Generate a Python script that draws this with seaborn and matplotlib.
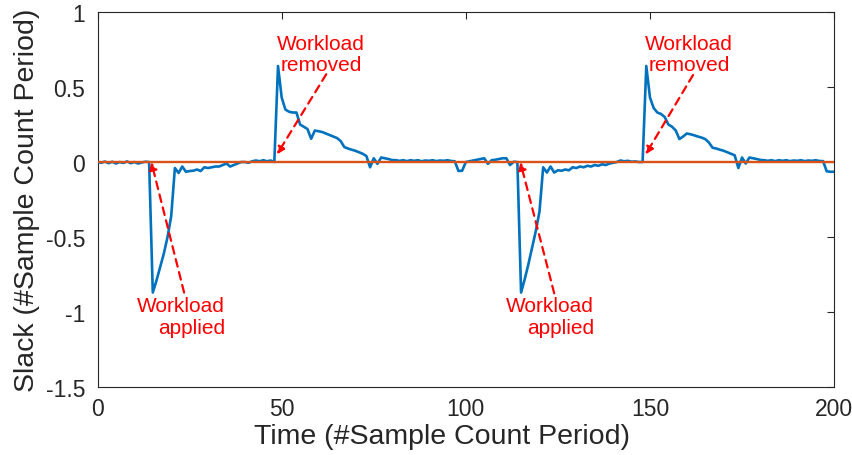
import numpy as np
import pandas as pd
import matplotlib
matplotlib.use("Agg")
import matplotlib.pyplot as plt
import seaborn as sns

# ---- data ----
time = list(range(0, 201))

slack_part1 = [  # x = 0 .. 49
    0.0, -0.005, 0.003, -0.008, 0.002, -0.01, 0.0, -0.006, 0.004, -0.008,
    0.0, -0.01, -0.003, 0.002, 0.0, -0.87, -0.79, -0.70, -0.61, -0.50,
    -0.36, -0.04, -0.073, -0.03, -0.065, -0.06, -0.058, -0.05, -0.06, -0.035,
    -0.04, -0.035, -0.03, -0.03, -0.02, -0.01, -0.03, -0.02, -0.01, 0.0,
    0.0, -0.005, 0.005, 0.01, 0.005, 0.012, 0.005, 0.01, 0.0, 0.64,
]
slack_part2 = [  # x = 50 .. 99
    0.43, 0.35, 0.335, 0.33, 0.33, 0.25, 0.235, 0.22, 0.155, 0.21,
    0.205, 0.20, 0.19, 0.18, 0.17, 0.16, 0.14, 0.10, 0.09, 0.082,
    0.075, 0.065, 0.055, 0.04, -0.035, 0.025, -0.012, 0.03, 0.025, 0.02,
    0.013, 0.012, 0.008, 0.012, 0.006, 0.012, 0.008, 0.012, 0.005, 0.01,
    0.008, 0.012, 0.006, 0.01, 0.008, 0.012, 0.007, 0.005, -0.06, -0.058,
]
slack_part3 = [  # x = 100 .. 149
    0.0, 0.005, 0.01, 0.015, 0.02, 0.025, -0.012, 0.012, 0.015, 0.02,
    0.025, 0.025, -0.02, 0.002, 0.0, -0.87, -0.78, -0.68, -0.57, -0.46,
    -0.33, -0.035, -0.07, -0.03, -0.07, -0.055, -0.058, -0.05, -0.055, -0.035,
    -0.04, -0.03, -0.035, -0.025, -0.03, -0.02, -0.025, -0.015, -0.02, -0.01,
    -0.005, 0.0, 0.01, 0.005, 0.008, 0.002, 0.004, 0.0, 0.0, 0.64,
]
slack_part4 = [  # x = 150 .. 200
    0.43, 0.36, 0.33, 0.32, 0.30, 0.25, 0.235, 0.21, 0.153, 0.17,
    0.19, 0.185, 0.178, 0.17, 0.163, 0.153, 0.13, 0.095, 0.09, 0.082,
    0.075, 0.065, 0.055, 0.045, -0.04, 0.03, -0.01, 0.03, 0.025, 0.02,
    0.014, 0.012, 0.008, 0.012, 0.006, 0.012, 0.008, 0.012, 0.006, 0.01,
    0.008, 0.012, 0.006, 0.01, 0.008, 0.012, 0.007, 0.006, -0.062, -0.065,
    -0.065,
]
slack = slack_part1 + slack_part2 + slack_part3 + slack_part4
reference = [0.0] * len(time)

x_ticks = [0, 50, 100, 150, 200]
x_tick_labels = ["0", "50", "100", "150", "200"]
y_ticks = [-1.5, -1.0, -0.5, 0.0, 0.5, 1.0]
y_tick_labels = ["-1.5", "-1", "-0.5", "0", "0.5", "1"]

# annotations: (text, text_x, text_y, tail_x, tail_y, tip_x, tip_y, align)
annotations = [
    ("Workload\napplied", 34.6, -0.895, 23.5, -0.87, 14.6, 0.0, "right"),
    ("Workload\nremoved", 60.7, 0.855, 62.1, 0.585, 48.7, 0.05, "center"),
    ("Workload\napplied", 134.8, -0.895, 124.0, -0.875, 114.8, 0.0, "right"),
    ("Workload\nremoved", 160.6, 0.855, 161.7, 0.58, 148.8, 0.05, "center"),
]

# ---- plot ----
sns.set_theme(style="white")
plt.rcParams["font.family"] = ["Liberation Sans", "DejaVu Sans"]

df = pd.DataFrame({"time": time, "slack": slack, "ref": reference})

fig = plt.figure(figsize=(8.52, 4.56), dpi=100)
ax = fig.add_axes([0.1145, 0.149, 0.8645, 0.8225])

sns.lineplot(data=df, x="time", y="slack", ax=ax, color="#0072BD", lw=1.9, zorder=3)
sns.lineplot(data=df, x="time", y="ref", ax=ax, color="#D95319", lw=1.7, zorder=4)

ax.set_xlim(0, 200)
ax.set_ylim(-1.5, 1.0)
ax.set_xticks(x_ticks)
ax.set_xticklabels(x_tick_labels)
ax.set_yticks(y_ticks)
ax.set_yticklabels(y_tick_labels)

axis_col = "#262626"
for s in ax.spines.values():
    s.set_visible(True)
    s.set_color(axis_col)
    s.set_linewidth(0.8)
ax.tick_params(axis="both", which="both", direction="in", length=5, width=0.8,
               colors=axis_col, labelsize=16.5, top=True, right=True,
               labeltop=False, labelright=False)
ax.tick_params(axis="y", pad=9)
ax.tick_params(axis="x", pad=7)
ax.set_xlabel("Time (#Sample Count Period)", fontsize=20.5, color=axis_col)
ax.xaxis.set_label_coords(0.468, -0.097)
ax.xaxis.label.set_va("top")
ax.set_ylabel("Slack (#Sample Count Period)", fontsize=20.5, color=axis_col, labelpad=4)

for text, tx, ty, ax0, ay0, ax1, ay1, al in annotations:
    ax.annotate("", xy=(ax1, ay1), xytext=(ax0, ay0),
                arrowprops=dict(arrowstyle="-|>", color="red", lw=1.6,
                                linestyle=(0, (3.5, 2.5)), mutation_scale=11,
                                shrinkA=0, shrinkB=0), zorder=5)
    ha = "right" if al == "right" else "center"
    ax.text(tx, ty, text, color="red", fontsize=15, ha=ha, va="top",
            multialignment=al, linespacing=1.15, zorder=6)

fig.savefig("out.png", dpi=100, facecolor="white")
